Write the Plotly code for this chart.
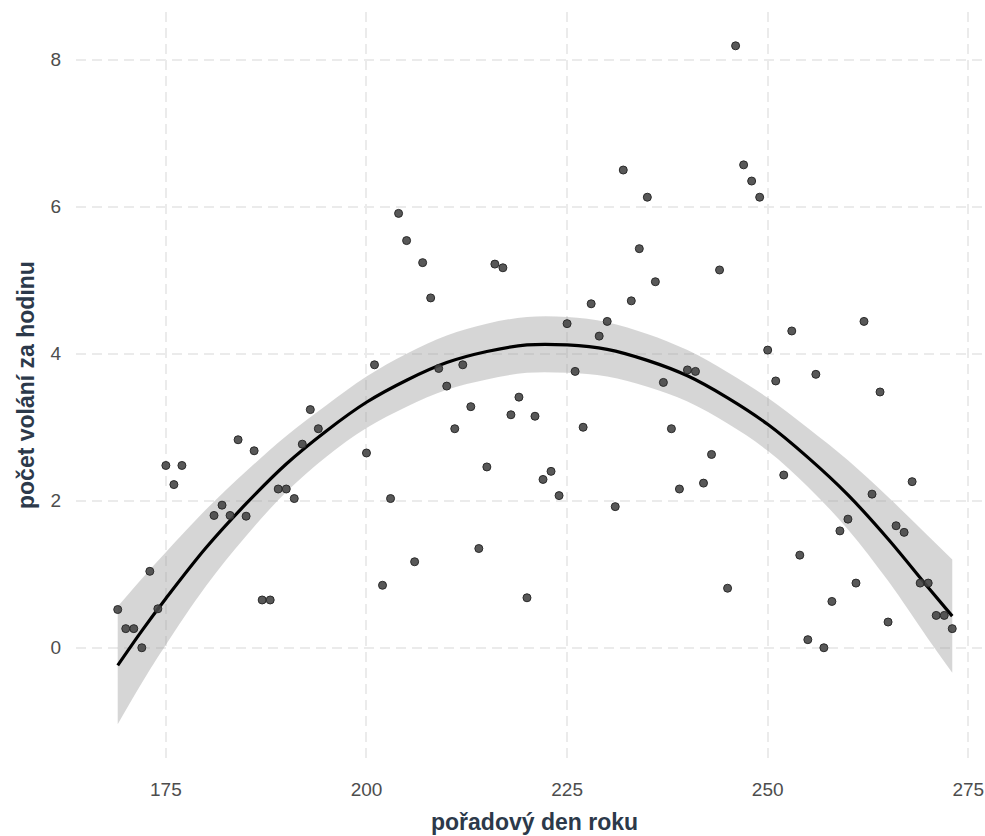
import plotly.graph_objects as go

# ---- data ----
day = [169, 170, 171, 172, 173, 174, 175, 176, 177,
       181, 182, 183, 184, 185, 186, 187, 188, 189, 190, 191, 192, 193, 194,
       200, 201, 202, 203, 204, 205, 206, 207, 208, 209, 210, 211, 212, 213, 214,
       215, 216, 217, 218, 219, 220, 221, 222, 223, 224, 225, 226, 227, 228, 229,
       230, 231, 232, 233, 234, 235, 236, 237, 238, 239, 240, 241, 242, 243, 244,
       245, 246, 247, 248, 249, 250, 251, 252, 253, 254, 255, 256, 257, 258, 259,
       260, 261, 262, 263, 264, 265, 266, 267, 268, 269, 270, 271, 272, 273]
calls = [0.52, 0.26, 0.26, 0.00, 1.04, 0.53, 2.48, 2.22, 2.48,
         1.80, 1.94, 1.80, 2.83, 1.79, 2.68, 0.65, 0.65, 2.16, 2.16, 2.03, 2.77, 3.24, 2.98,
         2.65, 3.85, 0.85, 2.03, 5.91, 5.54, 1.17, 5.24, 4.76, 3.80, 3.56, 2.98, 3.85, 3.28, 1.35,
         2.46, 5.22, 5.17, 3.17, 3.41, 0.68, 3.15, 2.29, 2.40, 2.07, 4.41, 3.76, 3.00, 4.68, 4.24,
         4.44, 1.92, 6.50, 4.72, 5.43, 6.13, 4.98, 3.61, 2.98, 2.16, 3.78, 3.76, 2.24, 2.63, 5.14,
         0.81, 8.19, 6.57, 6.35, 6.13, 4.05, 3.63, 2.35, 4.31, 1.26, 0.11, 3.72, 0.00, 0.63, 1.59,
         1.75, 0.88, 4.44, 2.09, 3.48, 0.35, 1.66, 1.57, 2.26, 0.88, 0.88, 0.44, 0.44, 0.26]

# fitted curve and confidence band, read at these days
fit_day = [169, 172, 175, 180, 185, 190, 195, 200, 205, 210, 215, 220,
           225, 230, 235, 240, 245, 250, 255, 260, 265, 270, 273]
fit_mid = [-0.24, 0.23, 0.67, 1.36, 1.96, 2.50, 2.95, 3.34, 3.64, 3.88, 4.03, 4.12,
           4.12, 4.06, 3.91, 3.70, 3.40, 3.04, 2.59, 2.08, 1.48, 0.82, 0.43]
fit_low = [-1.04, -0.48, 0.04, 0.84, 1.52, 2.12, 2.60, 2.99, 3.28, 3.51, 3.65, 3.74,
           3.74, 3.69, 3.55, 3.35, 3.05, 2.68, 2.19, 1.61, 0.91, 0.12, -0.34]
fit_high = [0.56, 0.94, 1.30, 1.88, 2.40, 2.88, 3.30, 3.69, 4.00, 4.25, 4.41, 4.50,
            4.50, 4.43, 4.27, 4.05, 3.75, 3.40, 2.99, 2.55, 2.05, 1.52, 1.20]

x_ticks = [175, 200, 225, 250, 275]
y_ticks = [0, 2, 4, 6, 8]
x_title = "pořadový den roku"
y_title = "počet volání za hodinu"

FONT = "Liberation Sans, Arial, sans-serif"
TITLE_COLOR = "#2c394a"
TICK_COLOR = "#4d4d4d"
GRID = "#ebebeb"

fig = go.Figure()

fig.add_trace(go.Scatter(x=fit_day, y=fit_low, mode="lines",
                         line=dict(width=0, shape="spline", color="rgba(0,0,0,0)"),
                         hoverinfo="skip", showlegend=False))
fig.add_trace(go.Scatter(x=fit_day, y=fit_high, mode="lines",
                         line=dict(width=0, shape="spline", color="rgba(0,0,0,0)"),
                         fill="tonexty", fillcolor="rgba(153,153,153,0.4)",
                         hoverinfo="skip", showlegend=False))
fig.add_trace(go.Scatter(x=fit_day, y=fit_mid, mode="lines",
                         line=dict(width=3.2, shape="spline", color="#000000"),
                         showlegend=False))
fig.add_trace(go.Scatter(x=day, y=calls, mode="markers",
                         marker=dict(size=8, color="rgba(70,70,70,0.9)",
                                     line=dict(width=1, color="#2a2a2a")),
                         showlegend=False))

fig.update_layout(
    width=985, height=836,
    margin=dict(l=76, r=0, t=12, b=78, autoexpand=False),
    paper_bgcolor="white", plot_bgcolor="white",
    font=dict(family=FONT, color=TICK_COLOR),
    showlegend=False,
    xaxis=dict(range=[163.8, 277.08], tickvals=x_ticks, ticktext=[str(v) for v in x_ticks],
               showgrid=True, gridcolor=GRID, gridwidth=1.5, griddash="10px,6px",
               zeroline=False, showline=False, ticks="",
               tickfont=dict(size=19, color=TICK_COLOR, family=FONT),
               ticklabelstandoff=18),
    yaxis=dict(range=[-1.50, 8.65], tickvals=y_ticks, ticktext=[str(v) for v in y_ticks],
               showgrid=True, gridcolor=GRID, gridwidth=1.5, griddash="10px,6px",
               zeroline=False, showline=False, ticks="",
               tickfont=dict(size=19, color=TICK_COLOR, family=FONT),
               ticklabelstandoff=14),
    annotations=[
        dict(text=f"<b>{x_title}</b>", xref="paper", yref="paper",
             x=0.5045, y=-0.0853, xanchor="center", yanchor="middle", showarrow=False,
             font=dict(size=23, color=TITLE_COLOR, family=FONT)),
        dict(text=f"<b>{y_title}</b>", xref="paper", yref="paper",
             x=-0.055, y=0.5, xanchor="center", yanchor="middle", showarrow=False,
             textangle=-90, font=dict(size=23, color=TITLE_COLOR, family=FONT)),
    ],
)

fig.write_html("out.html", config={"displayModeBar": False},
               post_script="document.body.style.margin='0';document.body.style.overflow='hidden';")
